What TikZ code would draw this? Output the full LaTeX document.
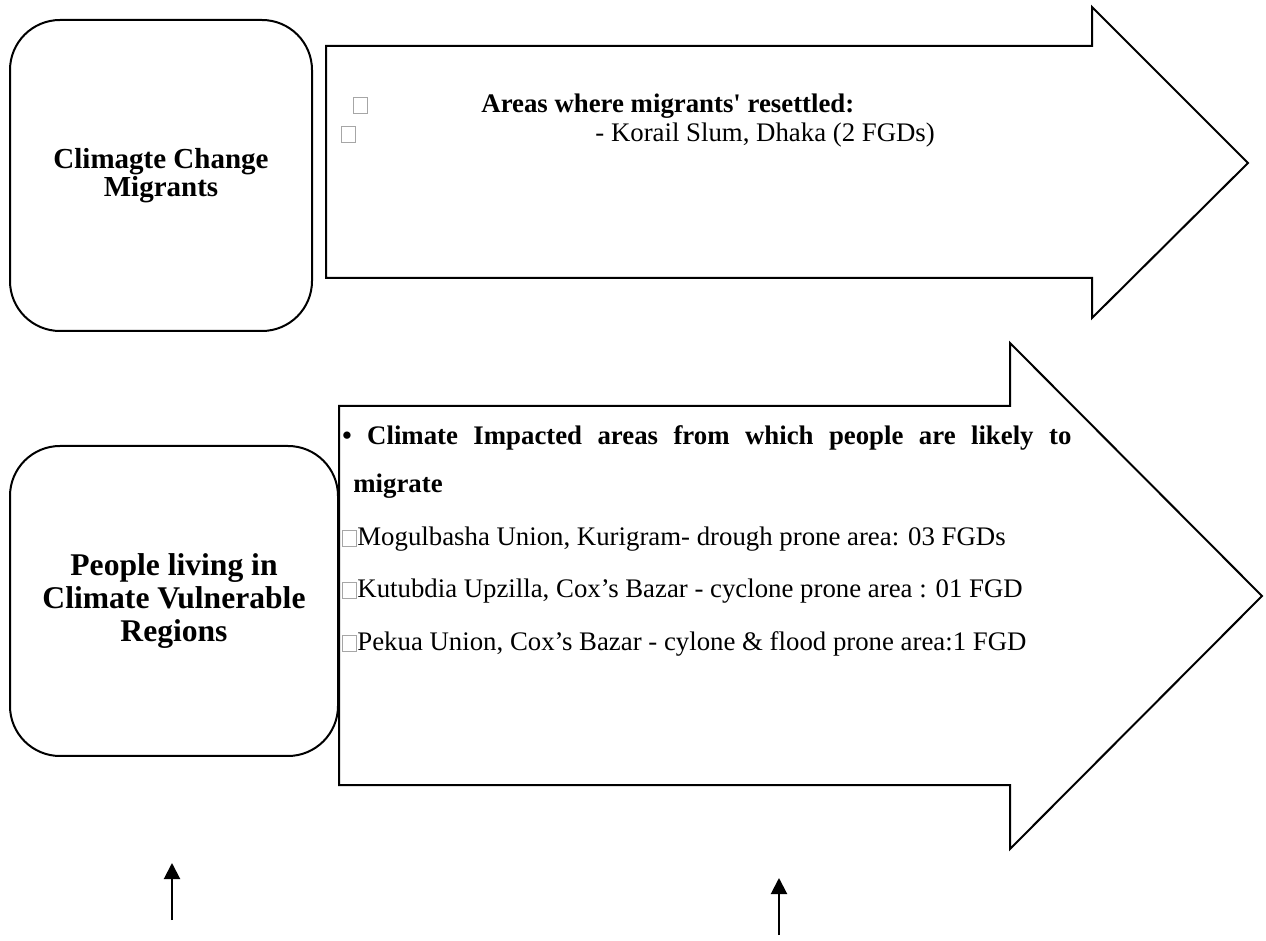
\documentclass[tikz,border=0pt]{standalone}
\usepackage{fontspec}
\setmainfont{Liberation Serif}
\usetikzlibrary{arrows.meta}
\newcommand\tofu{{\color{black!35}\setlength{\fboxrule}{0.5pt}\setlength{\fboxsep}{0pt}\fbox{\rule{0pt}{7.5pt}\rule{6.5pt}{0pt}}}}
\begin{document}
\begin{tikzpicture}[x=0.5pt,y=-0.5pt,
  outline/.style={draw=black, line width=1pt, fill=white, line join=miter},
  roundbox/.style={draw=black, line width=1pt, rounded corners=25pt, fill=white, align=center, inner sep=0pt},
  titleA/.style={font=\bfseries\fontsize{14.5}{13}\selectfont},
  titleB/.style={font=\bfseries\fontsize{15.8}{16.5}\selectfont},
  body/.style={font=\fontsize{13.4}{16}\selectfont, anchor=base west, inner sep=0pt},
  bodyb/.style={body, font=\bfseries\fontsize{13.4}{16}\selectfont},
  uparrow/.style={line width=1pt, -{Triangle[width=8pt,length=8pt]}}]
\useasboundingbox (0,0) rectangle (1266,941);
% left rounded boxes
\node[roundbox, titleA, minimum width=151pt, minimum height=155.5pt] (box1) at (161,175.5) {Climagte Change\\Migrants};
\node[roundbox, titleB, minimum width=164pt, minimum height=155pt] (box2) at (174,601) {People living in\\Climate Vulnerable\\Regions};
% big arrows
\draw[outline] (326,46) -- (1092,46) -- (1092,7) -- (1248,163) -- (1092,318) -- (1092,278) -- (326,278) -- cycle;
\draw[outline] (339,406) -- (1010,406) -- (1010,343) -- (1262,596) -- (1010,849) -- (1010,785) -- (339,785) -- cycle;
% texts of arrow 1
\node[body] (t1a) at (353,113) {\tofu};
\node[bodyb] (t1b) at (481,113) {Areas where migrants\textquotesingle\ resettled:};
\node[body] (t2a) at (341,142) {\tofu};
\node[body] (t2b) at (595,142) {- Korail Slum, Dhaka (2 FGDs)};
% texts of arrow 2
\node[bodyb] (l1) at (342,445) {\makebox[364.5pt][s]{• Climate Impacted areas from which people are likely to}};
\node[bodyb] (l2) at (353,493) {migrate};
\node[body] (l3) at (342,546) {\tofu Mogulbasha Union, Kurigram- drough prone area: 03 FGDs};
\node[body] (l4) at (342,598) {\tofu Kutubdia Upzilla, Cox’s Bazar - cyclone prone area : 01 FGD};
\node[body] (l5) at (342,651) {\tofu Pekua Union, Cox’s Bazar - cylone \& flood prone area:1 FGD};
% small vertical arrows
\coordinate (a1s) at (172,920);
\coordinate (a1e) at (172,863);
\coordinate (a2s) at (779,935);
\coordinate (a2e) at (779,878);
\draw[uparrow] (a1s) -- (a1e);
\draw[uparrow] (a2s) -- (a2e);
\end{tikzpicture}
\end{document}
